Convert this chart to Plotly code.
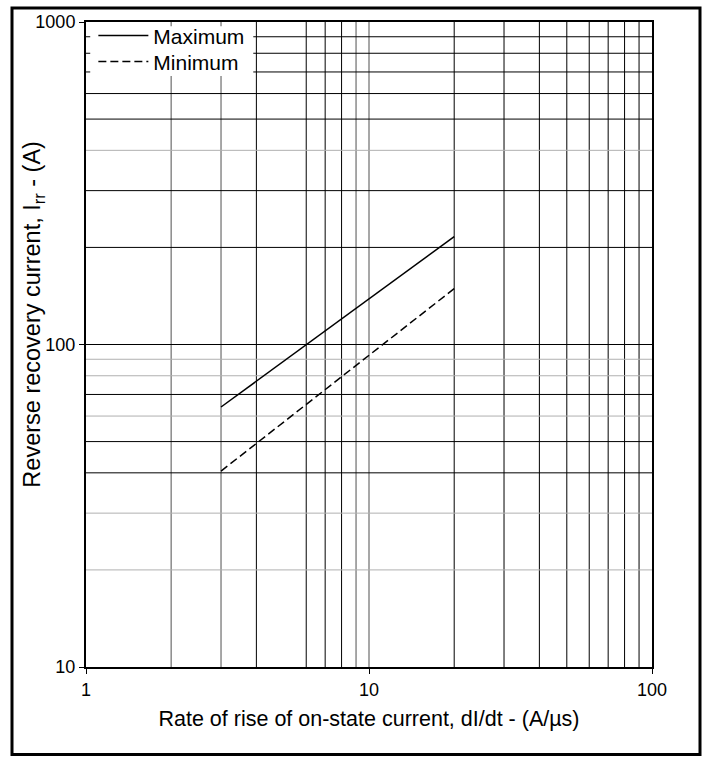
import plotly.graph_objects as go

# dI/dt (A/us) and reverse recovery current (A)
DIDT = [3, 20]
IRR_MAX = [64, 216]
IRR_MIN = [40.5, 149]

# grid values
X_GRID = [2, 3, 4, 6, 7, 8, 9, 10, 20, 30, 40, 50, 60, 70, 80, 90]
X_GRID_GREY = [2, 3, 9, 10]
Y_GRID = [20, 30, 40, 50, 60, 70, 80, 90, 100, 200, 300, 400, 500, 600, 700, 800, 900]
Y_GRID_GREY = [20, 30, 60, 80, 90, 400]
Y_UNDER_LEGEND = [700, 800, 900]   # these start right of the legend box

X_TICKS = [1, 10, 100]
Y_TICKS = [10, 100, 1000]

FONT = "Liberation Sans, Arial, sans-serif"
W, H = 709, 758
L, R, T, B = 86, 57, 19, 91
pw, ph = W - L - R, H - T - B

fig = go.Figure()
# each curve gets its own legend so the two rows can sit closer together
fig.add_trace(go.Scatter(x=DIDT, y=IRR_MAX, mode='lines', name='Maximum',
                         line=dict(color='black', width=1.5), legend='legend'))
fig.add_trace(go.Scatter(x=DIDT, y=IRR_MIN, mode='lines', name='Minimum',
                         line=dict(color='black', width=1.5, dash='8px,4px'), legend='legend2'))

shapes = []
for v in X_GRID:
    grey = v in X_GRID_GREY
    col = '#8a8a8a' if grey else 'black'
    w = 1.5 if grey else 1
    if v in (2, 3):
        # hidden behind the legend, only a small tick at the top
        shapes.append(dict(type='line', xref='x', yref='y', x0=v, x1=v, y0=10, y1=680,
                           line=dict(color=col, width=w), layer='below'))
        shapes.append(dict(type='line', xref='x', yref='y', x0=v, x1=v, y0=970, y1=1000,
                           line=dict(color=col, width=w), layer='below'))
    else:
        shapes.append(dict(type='line', xref='x', yref='y', x0=v, x1=v, y0=10, y1=1000,
                           line=dict(color=col, width=w), layer='below'))
for v in Y_GRID:
    grey = v in Y_GRID_GREY
    col = '#b0b0b0' if grey else 'black'
    if v in Y_UNDER_LEGEND:
        shapes.append(dict(type='line', xref='x', yref='y', x0=3.9, x1=100, y0=v, y1=v,
                           line=dict(color=col, width=1), layer='below'))
        shapes.append(dict(type='line', xref='x', yref='y', x0=1, x1=1.035, y0=v, y1=v,
                           line=dict(color=col, width=1), layer='below'))
    else:
        shapes.append(dict(type='line', xref='x', yref='y', x0=1, x1=100, y0=v, y1=v,
                           line=dict(color=col, width=1), layer='below'))

# outer frame round the whole figure
shapes.append(dict(type='rect', xref='paper', yref='paper',
                   x0=(12 - L) / pw, x1=(700 - L) / pw,
                   y0=(H - B - 755) / ph, y1=(H - B - 5) / ph,
                   line=dict(color='black', width=3), fillcolor='rgba(0,0,0,0)'))

leg = dict(x=0.013, xanchor='left', yanchor='middle', bgcolor='rgba(0,0,0,0)',
           font=dict(size=21), itemwidth=50)
fig.update_layout(
    width=W, height=H,
    margin=dict(l=L, r=R, t=T, b=B),
    paper_bgcolor='white', plot_bgcolor='white',
    font=dict(family=FONT, size=18, color='black'),
    shapes=shapes,
    showlegend=True,
    legend=dict(leg, y=(H - B - 33) / ph),
    legend2=dict(leg, y=(H - B - 59) / ph),
    annotations=[dict(
        text='Reverse recovery current, I<sub>rr</sub> - (A)',
        xref='paper', yref='paper', x=(34 - L) / pw, y=(H - B - 313) / ph,
        textangle=-90, showarrow=False, font=dict(size=23.5),
        xanchor='center', yanchor='middle',
    )],
)
fig.update_xaxes(
    type='log', range=[0, 2], tickvals=X_TICKS, ticktext=[str(v) for v in X_TICKS],
    showgrid=False, zeroline=False, showline=True, mirror=True,
    linecolor='black', linewidth=2, ticks='outside', ticklen=5, tickcolor='black',
    title=dict(text='Rate of rise of on-state current, dI/dt - (A/µs)', font=dict(size=21.5), standoff=12),
)
fig.update_yaxes(
    type='log', range=[1, 3], tickvals=Y_TICKS, ticktext=[str(v) for v in Y_TICKS],
    showgrid=False, zeroline=False, showline=True, mirror=True,
    linecolor='black', linewidth=2, ticks='outside', ticklen=5, tickcolor='black',
)

# page has a default body margin which would shift and crop the figure
fig.write_html("out.html", config={'displayModeBar': False},
               post_script="document.body.style.margin='0';")
